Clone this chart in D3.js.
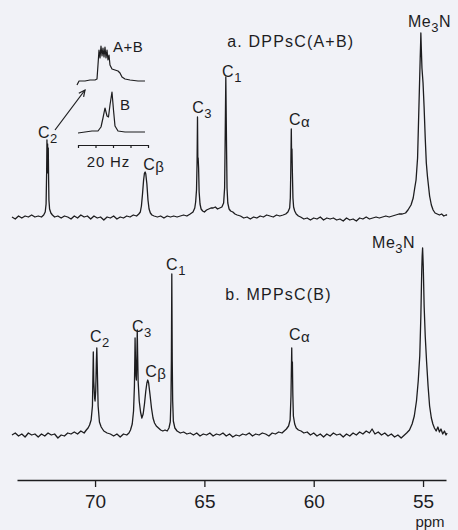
<!DOCTYPE html>
<html>
<head>
<meta charset="utf-8">
<script src="https://cdn.jsdelivr.net/npm/d3@7"></script>
<style>
  html, body { margin: 0; padding: 0; background: #f1f2f7; }
  svg { display: block; }
  text { font-family: "Liberation Sans", Arial, sans-serif; fill: #1d1d1f; }
</style>
</head>
<body>
<div id="chart"></div>
<script>
// ppm axis ticks
const ppmTicks = [70, 65, 60, 55];

// spectrum a, DPPsC (A+B): [ppm, intensity]
const traceA = [
  [73.80,1],[73.65,-1],[73.50,2],[73.35,0],[73.20,2],[73.05,1],[72.90,3],[72.75,1],[72.60,2],[72.45,1],
  [72.35,3],[72.28,6],[72.24,14],[72.215,45],[72.20,78],[72.185,50],[72.17,74],[72.155,45],[72.14,70],[72.125,40],
  [72.11,18],[72.08,9],[72.02,5],[71.95,3],[71.85,1],[71.70,2],[71.55,0],[71.40,2],[71.25,1],[71.10,-1],
  [70.95,2],[70.80,0],[70.65,3],[70.50,1],[70.35,2],[70.20,-1],[70.05,2],[69.90,0],[69.75,1],[69.60,-2],
  [69.45,1],[69.30,0],[69.15,2],[69.00,-1],[68.85,1],[68.70,0],[68.55,2],[68.40,1],[68.25,3],[68.10,2],
  [68.00,4],[67.93,6],[67.88,12],[67.83,24],[67.78,38],[67.74,45],[67.71,46],[67.68,44],[67.63,34],[67.58,18],
  [67.53,9],[67.47,5],[67.40,3],[67.30,2],[67.15,1],[67.00,2],[66.85,0],[66.70,2],[66.55,1],[66.40,2],
  [66.25,1],[66.10,2],[65.95,3],[65.80,2],[65.65,4],[65.52,6],[65.44,10],[65.40,16],[65.36,28],[65.335,55],
  [65.315,101],[65.30,58],[65.285,60],[65.265,50],[65.24,26],[65.20,14],[65.15,9],[65.08,7],[65.00,6],[64.90,8],
  [64.80,9],[64.70,10],[64.60,10],[64.50,11],[64.40,9],[64.30,10],[64.20,11],[64.12,15],[64.075,30],[64.055,68],
  [64.03,120],[64.02,141],[64.01,120],[63.985,68],[63.965,30],[63.93,15],[63.87,9],[63.80,7],[63.70,6],[63.60,4],
  [63.50,3],[63.35,2],[63.20,0],[63.05,1],[62.90,-1],[62.75,1],[62.60,0],[62.45,2],[62.30,1],[62.15,3],
  [62.00,2],[61.85,1],[61.70,3],[61.55,2],[61.40,3],[61.28,4],[61.18,6],[61.10,10],[61.07,20],[61.05,45],
  [61.025,89],[61.01,60],[60.995,69],[60.975,45],[60.95,20],[60.92,11],[60.87,7],[60.80,4],[60.70,2],[60.60,1],
  [60.45,-1],[60.30,0],[60.15,-2],[60.00,0],[59.85,-1],[59.70,1],[59.55,-2],[59.40,0],[59.25,-1],[59.10,0],
  [58.95,-2],[58.80,-1],[58.65,-3],[58.50,0],[58.35,-2],[58.20,-1],[58.05,-3],[57.90,0],[57.75,-1],[57.60,1],
  [57.45,-1],[57.30,0],[57.15,1],[57.00,0],[56.85,1],[56.70,2],[56.55,1],[56.40,2],[56.25,3],[56.10,4],
  [55.95,4],[55.80,5],[55.69,8],[55.55,13],[55.45,20],[55.38,30],[55.32,38],[55.25,60],[55.18,118],[55.13,160],
  [55.11,175],[55.10,185],[55.08,170],[55.05,150],[55.00,135],[54.95,110],[54.90,80],[54.85,55],[54.80,42],[54.75,32],
  [54.70,22],[54.62,13],[54.54,8],[54.45,5],[54.35,4],[54.25,3],[54.15,4],[54.05,2],[53.95,3],[53.90,3]
];

// spectrum b, MPPsC (B): [ppm, intensity]
const traceB = [
  [73.80,1],[73.65,3],[73.50,0],[73.35,2],[73.20,-1],[73.05,3],[72.90,1],[72.75,2],[72.60,-1],[72.45,2],
  [72.30,0],[72.15,3],[72.00,1],[71.85,2],[71.70,-2],[71.55,1],[71.40,0],[71.25,3],[71.10,2],[70.95,4],
  [70.80,2],[70.65,5],[70.50,3],[70.40,6],[70.32,8],[70.25,11],[70.18,16],[70.12,30],[70.09,70],[70.08,84],
  [70.06,55],[70.02,38],[70.00,35],[69.97,45],[69.94,75],[69.92,88],[69.90,70],[69.86,30],[69.80,14],[69.72,9],
  [69.60,5],[69.45,3],[69.30,2],[69.15,0],[69.00,2],[68.85,-1],[68.70,2],[68.55,1],[68.45,3],[68.38,6],
  [68.30,12],[68.24,25],[68.20,50],[68.18,80],[68.17,98],[68.155,80],[68.13,60],[68.11,56],[68.09,75],[68.07,106],
  [68.055,85],[68.03,55],[67.98,35],[67.92,24],[67.86,18],[67.80,22],[67.74,32],[67.68,45],[67.63,53],[67.59,56],
  [67.55,53],[67.49,42],[67.42,28],[67.35,18],[67.28,13],[67.20,10],[67.10,8],[67.00,6],[66.90,5],[66.80,6],
  [66.70,5],[66.62,8],[66.56,14],[66.53,35],[66.51,75],[66.49,162],[66.47,75],[66.45,35],[66.42,15],[66.35,8],
  [66.25,5],[66.10,3],[65.95,4],[65.80,2],[65.65,3],[65.50,1],[65.35,3],[65.20,0],[65.05,2],[64.90,1],
  [64.75,3],[64.60,0],[64.45,2],[64.30,1],[64.15,3],[64.00,0],[63.85,2],[63.70,-1],[63.55,1],[63.40,0],
  [63.25,2],[63.10,1],[62.95,3],[62.80,0],[62.65,2],[62.50,1],[62.35,3],[62.20,2],[62.05,0],[61.90,3],
  [61.75,2],[61.60,4],[61.45,3],[61.35,5],[61.25,7],[61.15,10],[61.08,16],[61.04,40],[61.005,88],[60.99,60],
  [60.975,74],[60.955,42],[60.93,20],[60.87,12],[60.80,8],[60.70,6],[60.58,5],[60.45,3],[60.30,4],[60.15,1],
  [60.00,3],[59.85,0],[59.70,2],[59.55,-1],[59.40,2],[59.25,0],[59.10,3],[58.95,1],[58.80,2],[58.65,-1],
  [58.50,2],[58.35,0],[58.20,3],[58.05,1],[57.90,4],[57.75,2],[57.60,5],[57.45,3],[57.33,7],[57.20,2],
  [57.05,4],[56.90,1],[56.75,3],[56.60,0],[56.45,2],[56.30,-1],[56.15,1],[56.00,-2],[55.90,0],[55.75,3],
  [55.62,6],[55.50,12],[55.40,20],[55.30,35],[55.22,55],[55.15,80],[55.10,120],[55.06,165],[55.04,180],[55.02,188],
  [54.99,170],[54.95,130],[54.90,100],[54.84,75],[54.77,50],[54.70,30],[54.62,18],[54.55,12],[54.48,8],[54.40,5],
  [54.32,9],[54.25,4],[54.18,7],[54.10,2],[54.02,5],[53.95,1],[53.90,3]
];

// inset: expanded C2 region, [Hz, intensity]
const insetAB = [
  [-0.29,-4],[0.29,0],[2.0,0],[3.43,1],[4.86,1],[5.43,2],[5.71,16],[6.0,31],[6.29,23],[6.57,35],
  [6.86,25],[7.14,33],[7.43,24],[7.71,34],[8.0,23],[8.29,31],[8.57,21],[8.86,26],[9.14,16],[9.71,12],
  [10.57,11],[11.43,10],[12.0,8],[12.57,4],[13.43,2],[14.86,1],[17.14,0],[19.14,0]
];
const insetB = [
  [0,-1],[2,0],[4,1],[5.71,1],[6.57,5],[7.14,14],[7.71,24],[8.29,16],[8.71,15],[9.14,27],
  [9.71,40],[10.14,22],[10.57,6],[11.43,1],[13.43,0],[16.29,0],[19.14,0]
];
const hzTicks = [0, 5, 10, 15, 20];

// peak labels: name, subscript, anchor [ppm, intensity]
const labelsA = [
  ["C", "2", 72.61, 80], ["C", "β", 67.80, 48], ["C", "3", 65.56, 105],
  ["C", "1", 64.19, 141], ["C", "α", 61.13, 93], ["Me", "3", 55.69, 191, "N"]
];
const labelsB = [
  ["C", "2", 70.23, 94], ["C", "3", 68.31, 104], ["C", "β", 67.71, 59],
  ["C", "1", 66.75, 166], ["C", "α", 61.13, 96], ["Me", "3", 57.33, 188, "N"]
];

const width = 458, height = 530;
const svg = d3.select("#chart").append("svg")
  .attr("width", width)
  .attr("height", height);

svg.append("rect").attr("width", width).attr("height", height).attr("fill", "#f1f2f7");

// scales
const x = d3.scaleLinear().domain([73.57, 53.95]).range([17, 446]);
const yA = d3.scaleLinear().domain([0, 200]).range([218, 18]);
const yB = d3.scaleLinear().domain([0, 200]).range([436, 236]);

const ink = "#1d1d1f";

function drawTrace(data, y) {
  const line = d3.line().x(d => x(d[0])).y(d => y(d[1]));
  svg.append("path")
    .datum(data)
    .attr("d", line)
    .attr("fill", "none")
    .attr("stroke", ink)
    .attr("stroke-width", 1.3)
    .attr("stroke-linejoin", "round");
}
drawTrace(traceA, yA);
drawTrace(traceB, yB);

// peak labels
function drawLabels(labels, y) {
  labels.forEach(l => {
    const t = svg.append("text")
      .attr("x", x(l[2]))
      .attr("y", y(l[3]))
      .style("font-size", "16px")
      .style("letter-spacing", "0.5px");
    t.append("tspan").text(l[0]);
    const greek = l[1] === "α" || l[1] === "β";
    t.append("tspan")
      .attr("dy", greek ? 2 : 5)
      .style("font-size", greek ? "15px" : "13px")
      .text(l[1]);
    if (l[4]) {
      t.append("tspan").attr("dy", -5).text(l[4]);
    }
  });
}
drawLabels(labelsA, yA);
drawLabels(labelsB, yB);

// spectrum titles
svg.append("text")
  .attr("x", x(63.96)).attr("y", yA(171))
  .style("font-size", "16px").style("letter-spacing", "1.2px")
  .text("a. DPPsC(A+B)");
svg.append("text")
  .attr("x", x(64.05)).attr("y", yB(136))
  .style("font-size", "16px").style("letter-spacing", "1.2px")
  .text("b. MPPsC(B)");

// ppm axis
const axis = svg.append("g")
  .attr("transform", "translate(0,480)")
  .call(d3.axisBottom(x).tickValues(ppmTicks).tickSize(7).tickSizeOuter(0).tickPadding(8));
axis.select(".domain").attr("stroke", ink).attr("stroke-width", 1.3);
axis.selectAll(".tick line").attr("stroke", ink).attr("stroke-width", 1.3);
axis.selectAll(".tick text")
  .attr("fill", ink)
  .style("font-family", "'Liberation Sans', Arial, sans-serif")
  .style("font-size", "19px");

svg.append("text")
  .attr("x", 430).attr("y", 527)
  .attr("text-anchor", "middle")
  .style("font-size", "15px")
  .text("ppm");

// inset
const xHz = d3.scaleLinear().domain([0, 20]).range([78, 148]);
const yIAB = d3.scaleLinear().domain([0, 40]).range([81, 41]);
const yIB = d3.scaleLinear().domain([0, 40]).range([132, 92]);

[[insetAB, yIAB], [insetB, yIB]].forEach(([data, y]) => {
  svg.append("path")
    .datum(data)
    .attr("d", d3.line().x(d => xHz(d[0])).y(d => y(d[1])))
    .attr("fill", "none")
    .attr("stroke", ink)
    .attr("stroke-width", 1.2)
    .attr("stroke-linejoin", "round");
});

const bar = svg.append("g")
  .attr("transform", "translate(0,145)")
  .call(d3.axisBottom(xHz).tickValues(hzTicks).tickSize(3).tickSizeOuter(0).tickFormat(""));
bar.select(".domain").attr("stroke", ink).attr("stroke-width", 1.2);
bar.selectAll(".tick line").attr("stroke", ink).attr("stroke-width", 1.2);

svg.append("text")
  .attr("x", xHz(2.5)).attr("y", 167)
  .style("font-size", "15px").style("letter-spacing", "0.8px")
  .text("20 Hz");
svg.append("text")
  .attr("x", xHz(10)).attr("y", yIAB(29))
  .style("font-size", "15px").style("letter-spacing", "0.5px")
  .text("A+B");
svg.append("text")
  .attr("x", xHz(12)).attr("y", yIB(22))
  .style("font-size", "15px")
  .text("B");

// arrow from C2 label to inset
const tail = [xHz(-6.57), yIAB(-49)], head = [xHz(2), yIAB(-9)];
svg.append("line")
  .attr("x1", tail[0]).attr("y1", tail[1])
  .attr("x2", head[0]).attr("y2", head[1])
  .attr("stroke", ink).attr("stroke-width", 1.2);
const ang = Math.atan2(head[1] - tail[1], head[0] - tail[0]);
const headPts = [ang + 2.7, ang - 2.7].map(a => [head[0] + 7 * Math.cos(a), head[1] + 7 * Math.sin(a)]);
svg.append("path")
  .attr("d", `M${headPts[0]}L${head}L${headPts[1]}`)
  .attr("fill", "none")
  .attr("stroke", ink).attr("stroke-width", 1.2);
</script>
</body>
</html>
